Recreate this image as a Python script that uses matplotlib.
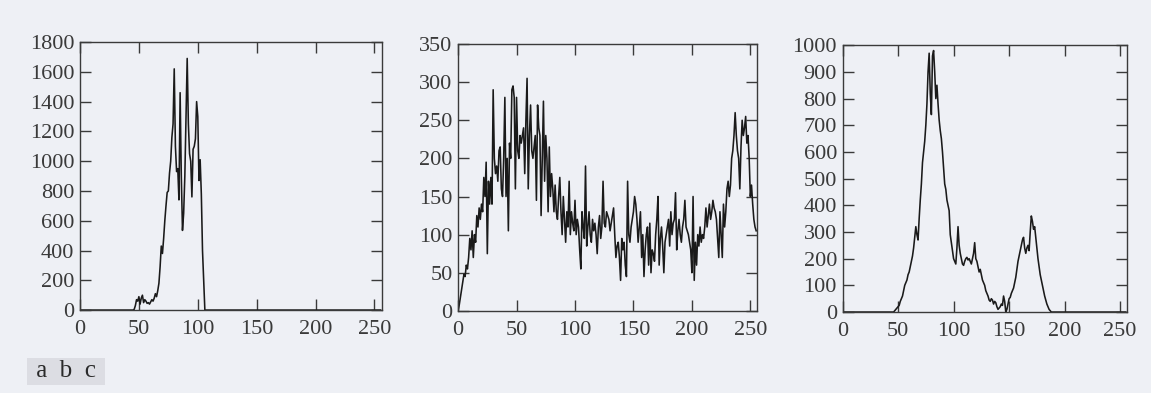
import numpy as np
import matplotlib.pyplot as plt

# Histograma (a): valores no nulos desde el nivel 44
inicio_a = 44
hist_a = [0, 0, 5, 30, 70, 60, 90, 40, 80, 100,
          50, 70, 60, 45, 50, 40, 55, 70, 60, 80,
          110, 90, 130, 180, 290, 430, 380, 480, 600, 700,
          790, 800, 920, 1000, 1160, 1250, 1620, 1100, 930, 950,
          740, 1460, 900, 535, 650, 900, 1300, 1690, 1250, 1050,
          1000, 760, 1080, 1100, 1150, 1400, 1300, 870, 1010, 780,
          400, 200, 0]

# Histograma (b): niveles 0..255
hist_b = [0, 8, 18, 28, 38, 48, 45, 60, 55, 70,
          95, 80, 105, 70, 100, 90, 125, 110, 135, 120,
          140, 130, 175, 150, 195, 75, 170, 140, 175, 140,
          290, 200, 180, 190, 170, 210, 215, 160, 150, 200,
          280, 150, 200, 105, 220, 200, 290, 295, 280, 160,
          280, 210, 200, 230, 220, 230, 240, 180, 250, 305,
          160, 230, 270, 210, 200, 215, 230, 145, 270, 240,
          230, 125, 200, 275, 170, 230, 200, 130, 215, 150,
          180, 160, 130, 165, 130, 120, 150, 175, 130, 100,
          150, 120, 90, 130, 110, 170, 100, 130, 115, 105,
          145, 100, 120, 110, 80, 55, 130, 110, 95, 190,
          85, 110, 130, 100, 90, 120, 105, 115, 100, 75,
          110, 125, 95, 110, 170, 115, 110, 130, 125, 120,
          105, 115, 125, 135, 100, 70, 85, 90, 70, 40,
          95, 80, 90, 60, 45, 170, 100, 90, 110, 120,
          130, 150, 140, 120, 90, 110, 130, 70, 100, 45,
          80, 100, 110, 60, 115, 50, 80, 75, 65, 100,
          120, 150, 60, 95, 110, 85, 50, 90, 100, 110,
          120, 85, 130, 100, 115, 120, 155, 80, 105, 120,
          100, 90, 110, 120, 145, 110, 105, 100, 90, 80,
          50, 150, 40, 90, 60, 100, 85, 110, 90, 100,
          95, 110, 135, 110, 125, 140, 120, 130, 145, 135,
          130, 120, 95, 70, 130, 100, 70, 140, 110, 130,
          160, 170, 150, 165, 200, 210, 230, 260, 230, 210,
          200, 160, 215, 250, 230, 240, 255, 220, 230, 200,
          150, 165, 140, 120, 110, 105]

# Histograma (c): valores no nulos desde el nivel 44
inicio_c = 44
hist_c = [0, 0, 0, 5, 10, 15, 20, 25, 40, 50,
          60, 80, 100, 110, 120, 140, 150, 170, 190, 210,
          240, 280, 320, 290, 270, 350, 420, 480, 560, 600,
          640, 700, 780, 900, 970, 820, 740, 960, 980, 900,
          800, 850, 780, 720, 680, 650, 600, 540, 480, 460,
          420, 400, 380, 290, 260, 230, 200, 190, 180, 240,
          320, 250, 220, 200, 180, 175, 190, 200, 205, 195,
          200, 190, 180, 200, 220, 260, 200, 190, 170, 150,
          160, 140, 120, 110, 100, 80, 70, 60, 45, 40,
          50, 45, 30, 40, 35, 20, 10, 15, 20, 30,
          25, 60, 40, 0, 10, 30, 50, 55, 70, 80,
          90, 110, 130, 160, 190, 210, 230, 250, 270, 280,
          240, 220, 240, 250, 230, 300, 360, 340, 310, 320,
          280, 240, 200, 170, 140, 120, 100, 80, 60, 45,
          30, 20, 10, 5, 0]


def completar(valores, inicio):
    h = np.zeros(256)
    h[inicio:inicio + len(valores)] = valores
    return h


fondo = '#eef0f5'
gris = '#3a3a3a'
plt.rcParams['font.family'] = ['Liberation Serif', 'DejaVu Serif']

fig = plt.figure(figsize=(11.51, 3.93), dpi=100, facecolor=fondo)

paneles = [
    (completar(hist_a, inicio_a), [0.0695, 0.211, 0.262, 0.682], 1800, 200),
    (np.array(hist_b, dtype=float), [0.398, 0.209, 0.260, 0.679], 350, 50),
    (completar(hist_c, inicio_c), [0.732, 0.206, 0.247, 0.679], 1000, 100),
]

for h, pos, ymax, paso in paneles:
    ax = fig.add_axes(pos, facecolor=fondo)
    ax.plot(np.arange(256), h, color='#1a1a1a', lw=1.15)
    ax.set_xlim(0, 256)
    ax.set_ylim(0, ymax)
    ax.set_xticks(range(0, 251, 50))
    ax.set_yticks(range(0, ymax + 1, paso))
    ax.tick_params(direction='in', top=True, right=True, length=8,
                   width=1, color=gris, labelsize=16, labelcolor=gris)
    ax.tick_params(axis='x', pad=7)
    ax.tick_params(axis='y', pad=4)
    for s in ax.spines.values():
        s.set_color(gris)
        s.set_linewidth(1.0)

fig.text(0.026, 0.04, ' a  b  c ', fontsize=18, color='#2a2a2a',
         bbox=dict(facecolor='#dcdde3', edgecolor='none', pad=2))

plt.savefig('out.png', dpi=100, facecolor=fondo)
